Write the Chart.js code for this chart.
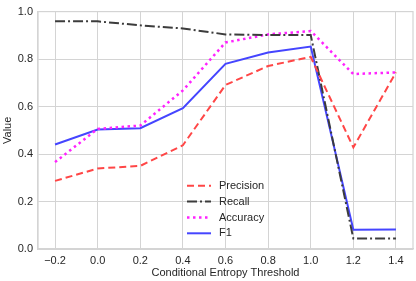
<!DOCTYPE html>
<html>
<head>
<meta charset="utf-8">
<script src="https://cdn.jsdelivr.net/npm/chart.js@4"></script>
<style>
  html, body { margin: 0; padding: 0; background: #fff; }
  #wrap { width: 416px; height: 281px; }
</style>
</head>
<body>
<div id="wrap"><canvas id="chart" width="416" height="281"></canvas></div>
<script>
// thresholds on the x axis
const thresholds = [-0.2, 0.0, 0.2, 0.4, 0.6, 0.8, 1.0, 1.2, 1.4];
const precision = [0.287, 0.339, 0.350, 0.437, 0.691, 0.771, 0.809, 0.428, 0.744];
const recall    = [0.959, 0.959, 0.942, 0.929, 0.904, 0.901, 0.901, 0.044, 0.044];
const accuracy  = [0.366, 0.506, 0.520, 0.668, 0.870, 0.904, 0.918, 0.737, 0.744];
const f1        = [0.440, 0.503, 0.509, 0.593, 0.780, 0.828, 0.853, 0.081, 0.082];
const xTicks = [-0.2, 0.0, 0.2, 0.4, 0.6, 0.8, 1.0, 1.2, 1.4];
const yTicks = [0.0, 0.2, 0.4, 0.6, 0.8, 1.0];

const FONT = 'Liberation Sans, Arial, sans-serif';
const GRID = '#d4d4d4';

function pts(vals){ return thresholds.map((x, i) => ({x: x, y: vals[i]})); }
function fmt(v){ const s = Math.abs(v).toFixed(1); return v < -1e-9 ? '\u2212' + s : s; }

// legend drawn inside the plot, lower middle
const innerLegend = {
  id: 'innerLegend',
  afterDraw(chart){
    const ctx = chart.ctx;
    const x0 = 187, x1 = 211, tx = 219;
    const rows = [185.7, 201.5, 217.5, 233.3];
    chart.data.datasets.forEach((ds, i) => {
      const y = rows[i];
      ctx.save();
      ctx.strokeStyle = ds.borderColor;
      ctx.lineWidth = ds.borderWidth;
      ctx.setLineDash(ds.borderDash || []);
      ctx.beginPath(); ctx.moveTo(x0, y); ctx.lineTo(x1, y); ctx.stroke();
      ctx.setLineDash([]);
      ctx.fillStyle = '#262626';
      ctx.font = '11px ' + FONT;
      ctx.textBaseline = 'middle';
      ctx.fillText(ds.label, tx, y);
      ctx.restore();
    });
  }
};

new Chart(document.getElementById('chart').getContext('2d'), {
  type: 'line',
  data: {
    datasets: [
      { label: 'Precision', data: pts(precision), borderColor: '#ff4646', borderWidth: 2, borderDash: [7, 4] },
      { label: 'Recall', data: pts(recall), borderColor: '#3c3c3c', borderWidth: 2, borderDash: [10, 3, 2, 3] },
      { label: 'Accuracy', data: pts(accuracy), borderColor: '#ff22ff', borderWidth: 2.5, borderDash: [2.5, 3.5] },
      { label: 'F1', data: pts(f1), borderColor: '#4545ff', borderWidth: 2, borderDash: [] }
    ]
  },
  options: {
    responsive: false,
    animation: false,
    devicePixelRatio: 1,
    layout: { padding: { top: 6, right: 3, left: 0, bottom: 0 } },
    elements: { point: { radius: 0 }, line: { tension: 0, fill: false } },
    plugins: { legend: { display: false }, tooltip: { enabled: false } },
    scales: {
      x: {
        type: 'linear', min: -0.28, max: 1.48,
        afterBuildTicks: s => { s.ticks = xTicks.map(v => ({value: v})); },
        afterFit: s => { s.height = 32; },
        grid: { color: GRID, lineWidth: 1, drawTicks: false },
        border: { color: GRID, width: 1.2 },
        ticks: { color: '#262626', font: { family: FONT, size: 11 }, padding: 5, maxRotation: 0, callback: v => fmt(v) },
        title: { display: true, text: 'Conditional Entropy Threshold', color: '#262626', font: { family: FONT, size: 11 }, padding: { top: 0, bottom: 1 } }
      },
      y: {
        min: 0, max: 1,
        afterBuildTicks: s => { s.ticks = yTicks.map(v => ({value: v})); },
        afterFit: s => { s.width = 38; },
        grid: { color: GRID, lineWidth: 1, drawTicks: false },
        border: { color: GRID, width: 1.2 },
        ticks: { color: '#262626', font: { family: FONT, size: 11 }, padding: 5, callback: v => fmt(v) },
        title: { display: true, text: 'Value', color: '#262626', font: { family: FONT, size: 11 }, padding: { top: 1, bottom: 0 } }
      }
    }
  },
  plugins: [innerLegend, {
    id: 'frame',
    afterDraw(chart){
      const a = chart.chartArea, ctx = chart.ctx;
      ctx.save();
      ctx.strokeStyle = GRID; ctx.lineWidth = 1.2;
      ctx.strokeRect(a.left, a.top, a.right - a.left, a.bottom - a.top);
      ctx.restore();
    }
  }]
});
</script>
</body>
</html>
